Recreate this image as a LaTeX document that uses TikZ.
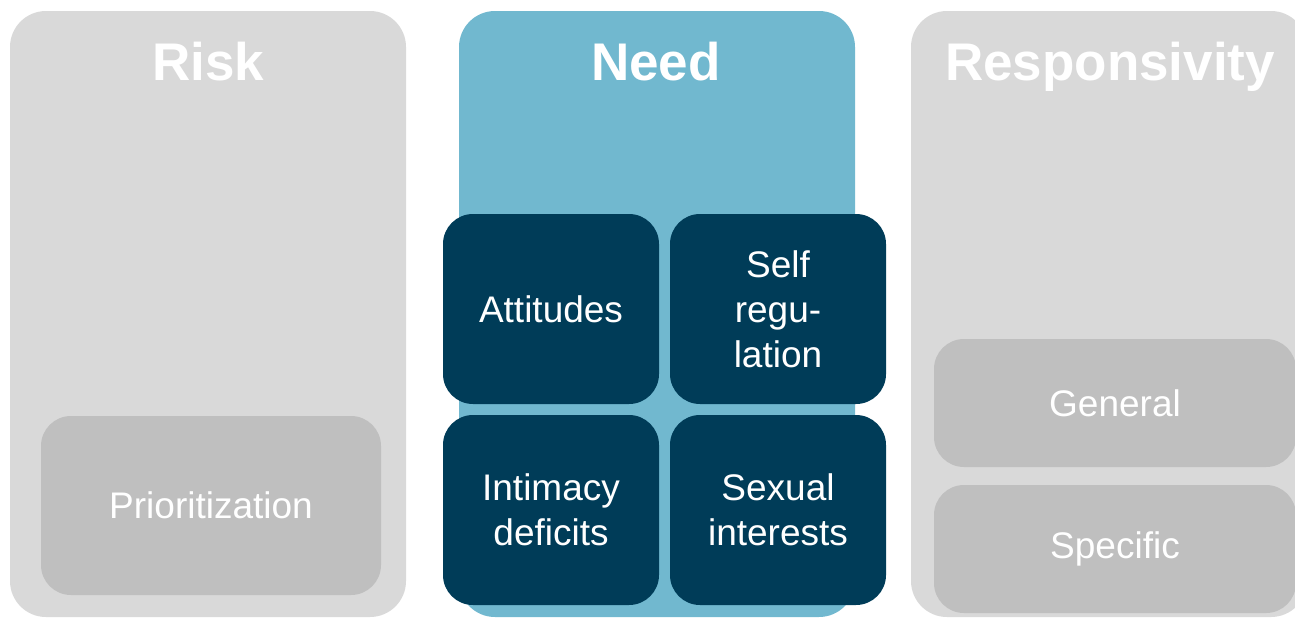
\documentclass[tikz,border=0pt]{standalone}
\usepackage{fontspec}
\setmainfont{Liberation Sans}
\usetikzlibrary{positioning}

\definecolor{panelgray}{HTML}{D9D9D9}
\definecolor{boxgray}{HTML}{BFBFBF}
\definecolor{needblue}{HTML}{71B8CF}
\definecolor{needdark}{HTML}{003C58}

\begin{document}
\begin{tikzpicture}[%
    x=1pt,
    y=-1pt,
    node distance=11pt,
    panel/.style={%
      rectangle,
      rounded corners=36pt,
      minimum width=396pt,
      minimum height=606pt,
      inner sep=0pt,
      outer sep=0pt,
      fill=panelgray
    },
    title/.style={%
      anchor=base,
      text=white,
      font=\bfseries\fontsize{53}{60}\selectfont
    },
    needbox/.style={%
      rectangle,
      rounded corners=30pt,
      minimum width=216pt,
      minimum height=190pt,
      inner sep=0pt,
      outer sep=0pt,
      fill=needdark,
      text=white,
      align=center,
      font=\fontsize{37}{45}\selectfont
    },
    graybox/.style={%
      rectangle,
      rounded corners=30pt,
      inner sep=0pt,
      outer sep=0pt,
      fill=boxgray,
      text=white,
      font=\fontsize{37}{45}\selectfont
    }
  ]
    \useasboundingbox (0,0) rectangle (1295,619);
    \clip (0,0) rectangle (1295,619);

    % columns
    \node[panel] (risk) at (208,314) {};
    \node[panel, fill=needblue] (need) at (657,314) {};
    \node[panel] (resp) at (1109,314) {};

    \node[title] (risktitle) at (208,80) {Risk};
    \node[title] (needtitle) at (656,80) {Need};
    \node[title] (resptitle) at (1110,80) {Responsivity};

    % risk
    \node[graybox, minimum width=340pt, minimum height=179pt] (prio) at (211,505.5) {Prioritization};

    % need
    \node[needbox] (att) at (551,309) {Attitudes};
    \node[needbox] (selfreg) [right=of att] {Self\\regu-\\lation};
    \node[needbox] (intim) [below=of att] {Intimacy\\deficits};
    \node[needbox] (sexint) [right=of intim] {Sexual\\interests};

    % responsivity
    \node[graybox, minimum width=362pt, minimum height=128pt] (general) at (1115,403) {General};
    \node[graybox, minimum width=362pt, minimum height=128pt] (specific) [below=18pt of general] {Specific};
\end{tikzpicture}
\end{document}
